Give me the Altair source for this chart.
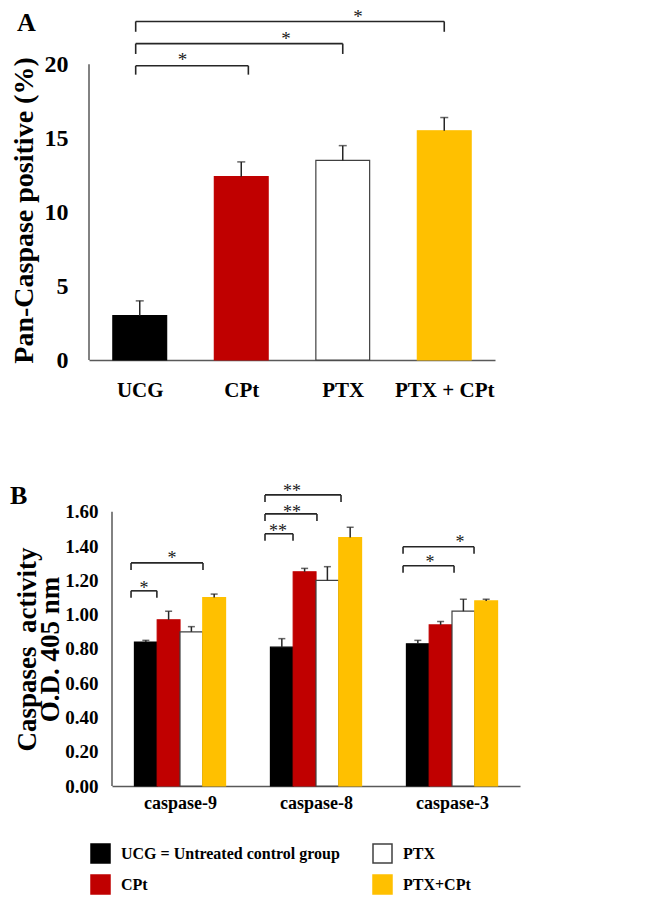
import json
import altair as alt
import pandas as pd

FONT = "Liberation Serif"

# ---------------- Panel A data ----------------
A_categories = ["UCG", "CPt", "PTX", "PTX + CPt"]
A_series = ["UCG", "CPt", "PTX", "PTX+CPt"]
A_values = [3.0, 12.4, 13.5, 15.5]
A_errors = [1.0, 1.0, 1.0, 0.9]
A_ticks = [0, 5, 10, 15, 20]

# significance brackets (category-index units / value units)
A_br_start = [-0.04, -0.04, -0.04]
A_br_end = [1.07, 2.0, 3.0]
A_br_top = [19.9, 21.4, 22.9]
A_br_leg = [19.3, 20.7, 22.2]
A_star_x = [0.42, 1.44, 2.15]
A_star_y = [20.5, 21.9, 23.4]
A_star_text = ["*", "*", "*"]

# ---------------- Panel B data ----------------
B_groups = ["caspase-9", "caspase-8", "caspase-3"]
B_series = ["UCG", "CPt", "PTX", "PTX+CPt"]
B_UCG = [0.84, 0.81, 0.83]
B_CPt = [0.97, 1.25, 0.94]
B_PTX = [0.90, 1.20, 1.02]
B_PTXCPt = [1.10, 1.45, 1.08]
B_UCG_err = [0.01, 0.05, 0.02]
B_CPt_err = [0.05, 0.02, 0.02]
B_PTX_err = [0.03, 0.08, 0.07]
B_PTXCPt_err = [0.02, 0.06, 0.01]
B_ticks = [0.0, 0.2, 0.4, 0.6, 0.8, 1.0, 1.2, 1.4, 1.6]

B_br_start = [-0.36, -0.36, 0.625, 0.625, 0.625, 1.64, 1.64]
B_br_end = [-0.17, 0.169, 0.831, 1.007, 1.184, 2.015, 2.162]
B_br_top = [1.139, 1.302, 1.472, 1.588, 1.699, 1.285, 1.396]
B_br_leg = [1.098, 1.261, 1.431, 1.547, 1.658, 1.244, 1.355]
B_star_x = [-0.265, -0.059, 0.721, 0.824, 0.824, 1.838, 2.059]
B_star_y = [1.168, 1.343, 1.50, 1.612, 1.734, 1.32, 1.436]
B_star_text = ["*", "*", "**", "**", "**", "*", "*"]

# ---------------- legend / colours ----------------
legend_order = ["UCG", "CPt", "PTX", "PTX+CPt"]
legend_fill = ["#000000", "#C00000", "#FFFFFF", "#FFC000"]
legend_stroke = ["#000000", "#C00000", "#404040", "#FFC000"]
legend_labels = {"UCG": "UCG = Untreated control group"}

A_BAR_W = 0.53
B_BAR_W = 0.1675
AXIS_COLOR = "#595959"
LINE_COLOR = "#262626"
STAR_COLOR = "#1a1a1a"

# ---------------- tables ----------------
dfA = pd.DataFrame({
    "series": A_series,
    "pos": list(range(len(A_categories))),
    "value": A_values,
    "err": A_errors,
})
dfA["left"] = dfA["pos"] - A_BAR_W / 2
dfA["right"] = dfA["pos"] + A_BAR_W / 2
dfA["top"] = dfA["value"] + dfA["err"]
dfA["base"] = 0.0

B_vals = [B_UCG, B_CPt, B_PTX, B_PTXCPt]
B_errs = [B_UCG_err, B_CPt_err, B_PTX_err, B_PTXCPt_err]
rows = []
for gi, g in enumerate(B_groups):
    for si, s in enumerate(B_series):
        p = gi + (si - 1.5) * B_BAR_W
        rows.append({"group": g, "series": s, "pos": p,
                     "left": p - B_BAR_W / 2, "right": p + B_BAR_W / 2,
                     "value": B_vals[si][gi], "top": B_vals[si][gi] + B_errs[si][gi],
                     "base": 0.0})
dfB = pd.DataFrame(rows)


def bracket_df(starts, ends, tops, legs):
    segs = []
    for x1, x2, t, l in zip(starts, ends, tops, legs):
        segs.append({"x": x1, "x2": x2, "y": t, "y2": t})
        segs.append({"x": x1, "x2": x1, "y": l, "y2": t})
        segs.append({"x": x2, "x2": x2, "y": l, "y2": t})
    return pd.DataFrame(segs)


brA = bracket_df(A_br_start, A_br_end, A_br_top, A_br_leg)
brB = bracket_df(B_br_start, B_br_end, B_br_top, B_br_leg)
stA = pd.DataFrame({"x": A_star_x, "y": A_star_y, "t": A_star_text})
stB = pd.DataFrame({"x": B_star_x, "y": B_star_y, "t": B_star_text})

# ---------------- shared encodings ----------------
label_expr = "datum.label == 'UCG' ? '%s' : datum.label" % legend_labels["UCG"]
legend = alt.Legend(
    orient="none", legendX=81, legendY=826, columns=2, title=None,
    symbolType="square", symbolSize=361, symbolStrokeWidth=1.5,
    labelFont=FONT, labelFontSize=16, labelFontWeight="bold", labelColor="black",
    labelLimit=400, labelOffset=10, rowPadding=6, columnPadding=30,
    labelExpr=label_expr, padding=0,
)
fill_enc = alt.Fill("series:N", scale=alt.Scale(domain=legend_order, range=legend_fill), legend=legend)
stroke_enc = alt.Stroke("series:N", scale=alt.Scale(domain=legend_order, range=legend_stroke), legend=legend)

# ---------------- Panel A ----------------
xsA = alt.Scale(domain=[-0.5, len(A_categories) - 0.5], nice=False, zero=False)
ysA = alt.Scale(domain=[0, 23.2], nice=False, zero=True)
A_label_expr = "%s[datum.value]" % json.dumps(A_categories)
A_title = "Pan-Caspase positive (%)"
axXA = alt.Axis(
    values=list(range(len(A_categories))), labelExpr=A_label_expr, title=None,
    ticks=False, grid=False, domainColor=AXIS_COLOR, domainWidth=1.5,
    labelPadding=19, labelFontSize=21, labelFont=FONT, labelFontWeight="bold",
    labelColor="black", labelOverlap=False, labelFlush=False)
axYA = alt.Axis(
    values=A_ticks, format="d", title=A_title, titleFont=FONT,
    titleFontSize=28, titleFontWeight="bold", titleColor="black", titlePadding=6,
    titleY=193, domain=False, ticks=False, grid=False, labelPadding=21,
    labelFontSize=24, labelFont=FONT, labelFontWeight="bold", labelColor="black")


def xa(f):
    return alt.X(f, scale=xsA, axis=axXA, title=None)


def ya(f):
    return alt.Y(f, scale=ysA, axis=axYA, title=A_title)


barsA = alt.Chart(dfA).mark_bar(strokeWidth=1.2).encode(
    x=xa("left:Q"), x2="right:Q", y=ya("value:Q"), y2="base:Q",
    fill=fill_enc, stroke=stroke_enc)
errA = alt.Chart(dfA).mark_rule(color=LINE_COLOR, strokeWidth=1.5).encode(
    x=xa("pos:Q"), y=ya("value:Q"), y2="top:Q")
capA = alt.Chart(dfA).mark_tick(color=LINE_COLOR, thickness=1.5, size=8, orient="horizontal").encode(
    x=xa("pos:Q"), y=ya("top:Q"))
brktA = alt.Chart(brA).mark_rule(color=LINE_COLOR, strokeWidth=1.6).encode(
    x=xa("x:Q"), x2="x2:Q", y=ya("y:Q"), y2="y2:Q")
starA = alt.Chart(stA).mark_text(font=FONT, fontSize=19, color=STAR_COLOR, fill=STAR_COLOR,
                                 baseline="alphabetic", dy=9).encode(
    x=xa("x:Q"), y=ya("y:Q"), text="t:N")
yaxA = alt.Chart(pd.DataFrame({"x": [xsA.domain[0]], "y": [A_ticks[0]], "y2": [A_ticks[-1]]})).mark_rule(
    color=AXIS_COLOR, strokeWidth=1.5).encode(x=xa("x:Q"), y=ya("y:Q"), y2="y2:Q")

panelA = alt.layer(barsA, errA, capA, brktA, starA, yaxA).properties(
    width=406, height=343,
    title=alt.TitleParams("A", anchor="start", frame="group", dx=-72, dy=28, offset=0,
                          font=FONT, fontSize=26, fontWeight="bold", color="black"))

# ---------------- Panel B ----------------
xsB = alt.Scale(domain=[-0.5, len(B_groups) - 0.5], nice=False, zero=False)
ysB = alt.Scale(domain=[0, 1.78], nice=False, zero=True)
B_label_expr = "%s[datum.value]" % json.dumps(B_groups)
B_title = ["Caspases\u00a0\u00a0activity", "O.D. 405 nm"]
axXB = alt.Axis(
    values=list(range(len(B_groups))), labelExpr=B_label_expr, title=None,
    ticks=False, grid=False, domainColor=AXIS_COLOR, domainWidth=1.5,
    labelPadding=8, labelFontSize=18, labelFont=FONT, labelFontWeight="bold",
    labelColor="black", labelOverlap=False, labelFlush=False)
axYB = alt.Axis(
    values=B_ticks, format=".2f", title=B_title, titleFont=FONT,
    titleFontSize=27, titleFontWeight="bold", titleColor="black", titlePadding=0,
    titleLineHeight=23, titleY=168, domain=False, ticks=False, grid=False, labelPadding=14,
    labelFontSize=19, labelFont=FONT, labelFontWeight="bold", labelColor="black")


def xb(f):
    return alt.X(f, scale=xsB, axis=axXB, title=None)


def yb(f):
    return alt.Y(f, scale=ysB, axis=axYB, title=B_title)


barsB = alt.Chart(dfB).mark_bar(strokeWidth=1.2).encode(
    x=xb("left:Q"), x2="right:Q", y=yb("value:Q"), y2="base:Q",
    fill=fill_enc, stroke=stroke_enc)
errB = alt.Chart(dfB).mark_rule(color=LINE_COLOR, strokeWidth=1.5).encode(
    x=xb("pos:Q"), y=yb("value:Q"), y2="top:Q")
capB = alt.Chart(dfB).mark_tick(color=LINE_COLOR, thickness=1.5, size=7, orient="horizontal").encode(
    x=xb("pos:Q"), y=yb("top:Q"))
brktB = alt.Chart(brB).mark_rule(color=LINE_COLOR, strokeWidth=1.6).encode(
    x=xb("x:Q"), x2="x2:Q", y=yb("y:Q"), y2="y2:Q")
starB = alt.Chart(stB).mark_text(font=FONT, fontSize=18, color=STAR_COLOR, fill=STAR_COLOR,
                                 baseline="alphabetic", dy=8).encode(
    x=xb("x:Q"), y=yb("y:Q"), text="t:N")
yaxB = alt.Chart(pd.DataFrame({"x": [xsB.domain[0]], "y": [B_ticks[0]], "y2": [B_ticks[-1]]})).mark_rule(
    color=AXIS_COLOR, strokeWidth=1.5).encode(x=xb("x:Q"), y=yb("y:Q"), y2="y2:Q")

panelB = alt.layer(barsB, errB, capB, brktB, starB, yaxB).properties(
    width=408, height=305,
    title=alt.TitleParams("B", anchor="start", frame="group", dx=-102, dy=28, offset=0,
                          font=FONT, fontSize=26, fontWeight="bold", color="black"))


def spacer():
    return alt.Chart(pd.DataFrame({"v": [0]})).mark_point(opacity=0, size=1).encode(
        x=alt.value(0), y=alt.value(0)).properties(width=1, height=1)


rowA = alt.hconcat(spacer(), panelA, spacing=0)
rowB = alt.hconcat(spacer(), panelB, spacing=0)

chart = alt.vconcat(rowA, rowB, spacing=80).properties(
    padding={"left": 0, "top": 0, "right": 5, "bottom": 5}
).configure_view(stroke=None)

chart.save("out.html", embed_options={"renderer": "svg", "actions": False})
